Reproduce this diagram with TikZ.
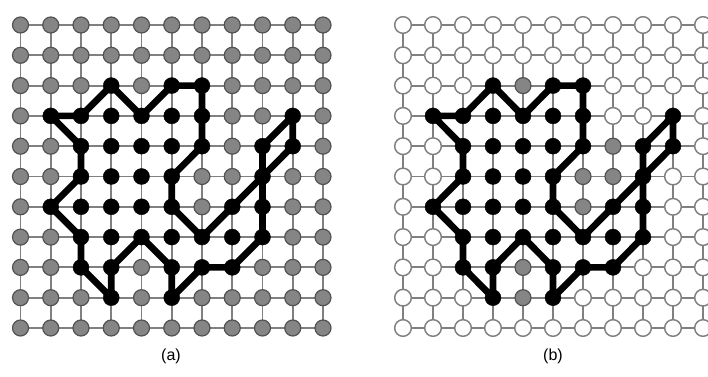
\documentclass[tikz,border=0pt]{standalone}
\usepackage{fontspec}
\setmainfont{Liberation Sans}
\usetikzlibrary{backgrounds}
\tikzset{
  pt/.style={circle, inner sep=0pt, minimum size=12pt},
  graypt/.style={pt, fill=black!48, draw=black!68, line width=0.9pt},
  whitept/.style={pt, fill=white, draw=black!50, line width=1.1pt, minimum size=12.5pt},
  blackpt/.style={pt, fill=black, draw=black, line width=0.3pt, minimum size=12pt},
  gridline/.style={draw=black!50, line width=1.4pt},
  contour/.style={draw=black, line width=5pt, line join=round, line cap=round},
  lbl/.style={font=\fontsize{12}{14}\selectfont},
  setblack/.style={L#1/.style={blackpt}, R#1/.style={blackpt}},
  setgray/.style={R#1/.style={graypt}},
  setblack/.list={1-3,2-3,3-2,4-3,5-2,6-2,6-3,6-4,5-5,5-6,6-7,7-6,8-5,9-4,9-3,8-4,8-6,8-7,7-8,6-8,5-9,5-8,4-7,3-8,3-9,2-8,2-7,1-6,2-5,2-4,3-3,5-3,3-4,4-4,5-4,3-5,4-5,2-6,3-6,4-6,3-7,5-7,7-7},
  setgray/.list={4-2,7-4,6-5,7-5,6-6,4-8,4-9}
}
\newcommand\drawcontour[1]{%
  \draw[contour] (#1-1-3.center) -- (#1-2-3.center) -- (#1-3-2.center) -- (#1-4-3.center)
    -- (#1-5-2.center) -- (#1-6-2.center) -- (#1-6-3.center) -- (#1-6-4.center)
    -- (#1-5-5.center) -- (#1-5-6.center) -- (#1-6-7.center) -- (#1-7-6.center)
    -- (#1-8-5.center) -- (#1-9-4.center) -- (#1-9-3.center) -- (#1-8-4.center)
    -- (#1-8-5.center) -- (#1-8-6.center) -- (#1-8-7.center) -- (#1-7-8.center)
    -- (#1-6-8.center) -- (#1-5-9.center) -- (#1-5-8.center) -- (#1-4-7.center)
    -- (#1-3-8.center) -- (#1-3-9.center) -- (#1-2-8.center) -- (#1-2-7.center)
    -- (#1-1-6.center) -- (#1-2-5.center) -- (#1-2-4.center) -- cycle;}
\begin{document}
\begin{tikzpicture}[x=0.75pt,y=-0.75pt]
\useasboundingbox (0,0) rectangle (708,377);
\foreach \i in {0,...,10} {
  \foreach \j in {0,...,10} {
    \node[graypt, L\i-\j/.try] (L-\i-\j) at ({20.5+30.25*\i},{25+30.3*\j}) {};
    \node[whitept, R\i-\j/.try] (R-\i-\j) at ({403+30*\i},{25+30.3*\j}) {};
  }
}
\begin{scope}[on background layer]
  \foreach \a in {0,...,9} {
    \pgfmathtruncatemacro\b{\a+1}
    \foreach \k in {0,...,10} {
      \draw[gridline] (L-\a-\k.center) -- (L-\b-\k.center);
      \draw[gridline] (L-\k-\a.center) -- (L-\k-\b.center);
      \draw[gridline] (R-\a-\k.center) -- (R-\b-\k.center);
      \draw[gridline] (R-\k-\a.center) -- (R-\k-\b.center);
    }
  }
  \drawcontour{L}
  \drawcontour{R}
\end{scope}
\node[lbl] (capa) at (171,356) {(a)};
\node[lbl] (capb) at (553,356) {(b)};
\end{tikzpicture}
\end{document}
